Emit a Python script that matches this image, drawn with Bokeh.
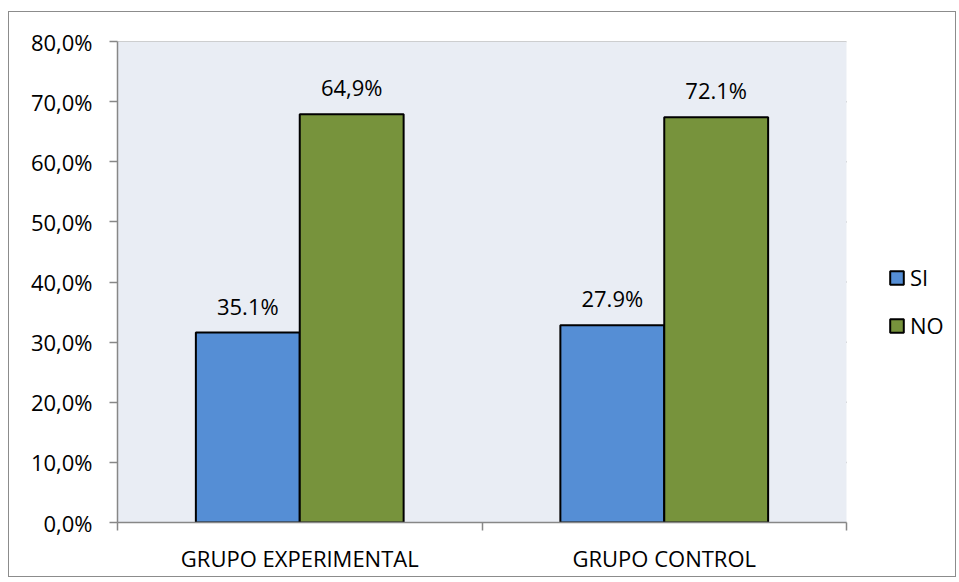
import numpy as np
from bokeh.plotting import figure
from bokeh.models import (ColumnDataSource, FixedTicker, Legend, LegendItem,
                          Range1d, BoxAnnotation)
from bokeh.transform import dodge
from bokeh.core.properties import value
from bokeh.embed import file_html
from bokeh.resources import INLINE

categories = ["GRUPO EXPERIMENTAL", "GRUPO CONTROL"]
series = ["SI", "NO"]
si_values = [31.6, 32.8]
no_values = [67.9, 67.4]
si_labels = ["35.1%", "27.9%"]
no_labels = ["64,9%", "72.1%"]
y_ticks = [0, 10, 20, 30, 40, 50, 60, 70, 80]
y_tick_labels = ["0,0%", "10,0%", "20,0%", "30,0%", "40,0%", "50,0%", "60,0%", "70,0%", "80,0%"]

FONT = "Open Sans"
FS = "22px"
GRID = "#878787"
SI_COLOR = "#558ED5"
NO_COLOR = "#77933C"
BG = "#E9EDF4"

W, H = 948, 566
LEFT, TOP, BOTTOM = 108, 29, 56
PLOT_W = 729                      # width of the shaded plot area in px
FRAME_W = W - LEFT
n = len(categories)

x = np.arange(n) + 0.5
src = ColumnDataSource(dict(x=x, si=si_values, no=no_values,
                            si_label=si_labels, no_label=no_labels))

p = figure(width=W, height=H, x_range=Range1d(0, n * FRAME_W / PLOT_W),
           y_range=Range1d(0, 80), output_backend="svg", toolbar_location=None,
           min_border_left=LEFT, min_border_right=0, min_border_top=TOP,
           min_border_bottom=BOTTOM)
p.styles = {"border": "1px solid #8c8c8c", "margin-top": "11px", "margin-left": "8px"}
p.background_fill_color = "white"
p.border_fill_color = "white"
p.outline_line_color = None

# shaded plot area over the categories only
p.add_layout(BoxAnnotation(left=0, right=n, fill_color=BG, fill_alpha=1,
                           line_color=None, level="underlay"))

# horizontal gridlines over the plot area only
grid_src = ColumnDataSource(dict(y=y_ticks, x0=[0] * len(y_ticks), x1=[n] * len(y_ticks)))
p.segment(x0="x0", x1="x1", y0="y", y1="y", source=grid_src,
          line_color=GRID, line_width=1.5, level="underlay")

off = 0.1425
w = 0.285
r_si = p.vbar(x=dodge("x", -off), top="si", width=w, source=src,
              fill_color=SI_COLOR, line_color="black", line_width=2)
r_no = p.vbar(x=dodge("x", off), top="no", width=w, source=src,
              fill_color=NO_COLOR, line_color="black", line_width=2)

p.text(x=dodge("x", -off), y="si", text="si_label", source=src,
       text_align="center", text_baseline="alphabetic", y_offset=-27,
       text_font=value(FONT), text_font_size=FS, text_color="black")
p.text(x=dodge("x", off), y="no", text="no_label", source=src,
       text_align="center", text_baseline="alphabetic", y_offset=-27,
       text_font=value(FONT), text_font_size=FS, text_color="black")

# y axis
p.yaxis.ticker = FixedTicker(ticks=y_ticks)
p.yaxis.major_label_overrides = {t: l for t, l in zip(y_ticks, y_tick_labels)}
p.yaxis.major_tick_out = 8
p.yaxis.major_tick_in = 0
p.yaxis.minor_tick_line_color = None
p.yaxis.axis_line_color = GRID
p.yaxis.major_tick_line_color = GRID
p.yaxis.axis_line_width = 1.5
p.yaxis.major_tick_line_width = 1.5
p.yaxis.major_label_standoff = 17
p.yaxis.major_label_text_font = FONT
p.yaxis.major_label_text_font_size = FS
p.yaxis.major_label_text_color = "black"

# x axis
p.xaxis.bounds = (0, n)
p.xaxis.ticker = FixedTicker(ticks=list(x), minor_ticks=list(range(n + 1)))
p.xaxis.major_label_overrides = {float(xx): c for xx, c in zip(x, categories)}
p.xaxis.major_tick_line_color = None
p.xaxis.minor_tick_out = 8
p.xaxis.minor_tick_in = 0
p.xaxis.minor_tick_line_color = GRID
p.xaxis.minor_tick_line_width = 1.5
p.xaxis.axis_line_color = GRID
p.xaxis.axis_line_width = 1.5
p.xaxis.major_label_standoff = 12
p.xaxis.major_label_text_font = FONT
p.xaxis.major_label_text_font_size = FS
p.xaxis.major_label_text_color = "black"

p.xgrid.grid_line_color = None
p.ygrid.grid_line_color = None

legend = Legend(items=[LegendItem(label=series[0], renderers=[r_si]),
                       LegendItem(label=series[1], renderers=[r_no])],
                location=(PLOT_W + 42, 182), orientation="vertical",
                glyph_width=17, glyph_height=17, label_standoff=5,
                spacing=18, padding=0, margin=0,
                border_line_color=None, background_fill_alpha=0,
                label_text_font=FONT, label_text_font_size=FS,
                label_text_color="black")
p.add_layout(legend)

open("out.html", "w").write(file_html(p, INLINE))
